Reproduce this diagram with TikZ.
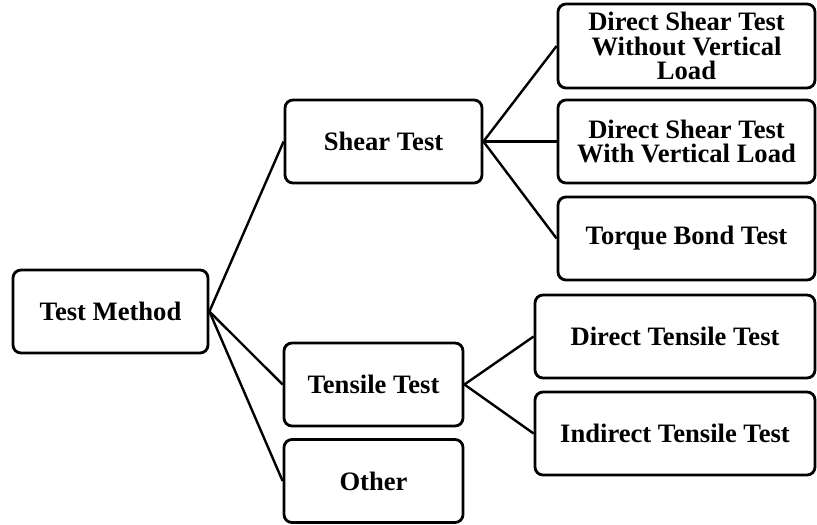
\documentclass[tikz,border=0pt]{standalone}
\usepackage{fontspec}
\setmainfont{Liberation Serif}

\begin{document}
\begin{tikzpicture}[x=0.5pt,y=-0.5pt,
    box/.style={draw, line width=1.4pt, rounded corners=4pt, align=center, inner sep=0pt,
        minimum height=41.5pt, font=\bfseries\fontsize{13.3}{12.2}\selectfont},
    link/.style={line width=1.2pt}]
    \useasboundingbox (0,0) rectangle (817,524);
    % root
    \node[box, minimum width=97.5pt] (method) at (110.5,311.5) {Test Method};
    % second level
    \node[box, minimum width=98.5pt] (shear) at (383.5,141.5) {Shear Test};
    \node[box, minimum width=89.5pt] (tensile) at (373.5,384.5) {Tensile Test};
    \node[box, minimum width=89.5pt] (other) at (373.5,481) {Other};
    % shear tests
    \node[box, minimum width=128.5pt, minimum height=42pt] (shearnoload) at (686.5,46) {Direct Shear Test\\Without Vertical\\Load};
    \node[box, minimum width=128.5pt] (shearload) at (686.5,141.5) {Direct Shear Test\\With Vertical Load};
    \node[box, minimum width=128.5pt] (torque) at (686.5,238.5) {Torque Bond Test};
    % tensile tests
    \node[box, minimum width=140pt] (directtensile) at (675,336.5) {Direct Tensile Test};
    \node[box, minimum width=140pt] (indirecttensile) at (675,433.5) {Indirect Tensile Test};

    \draw[link] (method.east) -- (shear.west);
    \draw[link] (method.east) -- (tensile.west);
    \draw[link] (method.east) -- (other.west);
    \draw[link] (shear.east) -- (shearnoload.west);
    \draw[link] (shear.east) -- (shearload.west);
    \draw[link] (shear.east) -- (torque.west);
    \draw[link] (tensile.east) -- (directtensile.west);
    \draw[link] (tensile.east) -- (indirecttensile.west);
\end{tikzpicture}
\end{document}
